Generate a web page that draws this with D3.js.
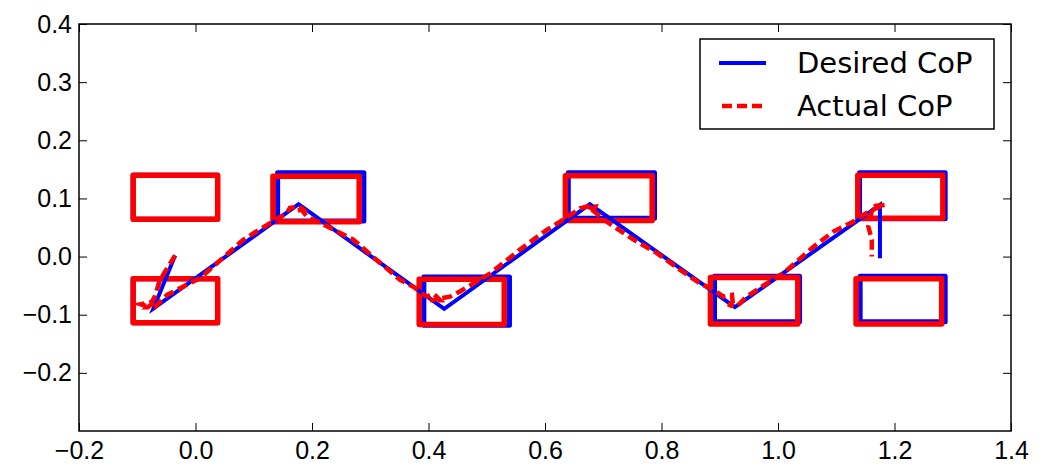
<!DOCTYPE html>
<html>
<head>
<meta charset="utf-8">
<script src="https://cdn.jsdelivr.net/npm/d3@7"></script>
<style>
  body { margin: 0; background: #fff; }
  svg { display: block; font-family: "DejaVu Sans", sans-serif; }
</style>
</head>
<body>
<svg id="chart" width="1042" height="474"></svg>
<script>
// tick values
const xTicks = [-0.2, 0.0, 0.2, 0.4, 0.6, 0.8, 1.0, 1.2, 1.4];
const yTicks = [-0.2, -0.1, 0.0, 0.1, 0.2, 0.3, 0.4];

// footsteps [x0, x1, y0, y1]
const desiredSteps = [
	[-0.107, 0.038, 0.064, 0.140],
	[-0.107, 0.038, -0.114, -0.038],
	[0.141, 0.289, 0.061, 0.144],
	[0.392, 0.539, -0.118, -0.035],
	[0.640, 0.788, 0.066, 0.144],
	[0.891, 1.037, -0.112, -0.034],
	[1.140, 1.287, 0.065, 0.144],
	[1.141, 1.287, -0.112, -0.034]
];
const actualSteps = [
	[-0.107, 0.038, 0.064, 0.140],
	[-0.107, 0.038, -0.114, -0.038],
	[0.133, 0.281, 0.060, 0.138],
	[0.384, 0.530, -0.117, -0.039],
	[0.635, 0.784, 0.062, 0.139],
	[0.884, 1.034, -0.116, -0.036],
	[1.137, 1.283, 0.066, 0.140],
	[1.134, 1.281, -0.116, -0.038]
];

// CoP trajectories [x, y]
const desiredCoP = [
	[-0.035, 0.002], [-0.072, -0.089], [0.177, 0.090], [0.427, -0.090],
	[0.677, 0.090], [0.926, -0.087], [1.175, 0.089], [1.175, -0.003]
];
const actualCoP = [
	[-0.035, 0.002], [-0.061, -0.040], [-0.070, -0.069], [-0.075, -0.078],
	[-0.094, -0.082], [-0.085, -0.085], [-0.073, -0.080], [-0.082, -0.087],
	[-0.070, -0.087], [-0.049, -0.066], [0.008, -0.037], [0.082, 0.029],
	[0.114, 0.049], [0.157, 0.075], [0.162, 0.084], [0.179, 0.086],
	[0.185, 0.081], [0.173, 0.079], [0.181, 0.082], [0.191, 0.069],
	[0.214, 0.058], [0.271, 0.029], [0.317, -0.011], [0.351, -0.040],
	[0.374, -0.052], [0.397, -0.069], [0.408, -0.064], [0.414, -0.069],
	[0.420, -0.075], [0.403, -0.075], [0.437, -0.069], [0.454, -0.060],
	[0.506, -0.029], [0.557, 0.012], [0.603, 0.046], [0.626, 0.060],
	[0.649, 0.075], [0.660, 0.083], [0.672, 0.086], [0.686, 0.086],
	[0.683, 0.081], [0.674, 0.086], [0.706, 0.060], [0.752, 0.029],
	[0.792, 0.006], [0.832, -0.023], [0.866, -0.046], [0.889, -0.057],
	[0.906, -0.069], [0.921, -0.066], [0.923, -0.086], [0.914, -0.082],
	[0.929, -0.086], [0.946, -0.069], [0.981, -0.046], [1.009, -0.029],
	[1.061, 0.017], [1.095, 0.043], [1.129, 0.060], [1.152, 0.075],
	[1.175, 0.086], [1.184, 0.089], [1.167, 0.087], [1.161, 0.078],
	[1.155, 0.052], [1.161, 0.029], [1.161, 0.000]
];

const seriesNames = ["Desired CoP", "Actual CoP"];

const svg = d3.select("#chart");
const plotLeft = 79, plotRight = 1011, plotTop = 24, plotBottom = 431;

const x = d3.scaleLinear().domain([-0.2, 1.4]).range([plotLeft, plotRight]);
const y = d3.scaleLinear().domain([-0.3, 0.4]).range([plotBottom, plotTop]);

const fmt = d => d3.format(".1f")(d).replace("-", "\u2212");

// footstep rectangles
function drawSteps(steps, color, w) {
	svg.append("g").selectAll("rect")
		.data(steps)
		.enter()
		.append("rect")
		.attr("x", d => x(d[0]))
		.attr("y", d => y(d[3]))
		.attr("width", d => x(d[1]) - x(d[0]))
		.attr("height", d => y(d[2]) - y(d[3]))
		.attr("fill", "none")
		.attr("stroke", color)
		.attr("stroke-width", w)
		.attr("stroke-linejoin", "round");
}
drawSteps(desiredSteps, "#0000ff", 5);
drawSteps(actualSteps, "#ff0000", 5.5);

const line = d3.line().x(d => x(d[0])).y(d => y(d[1]));

svg.append("path")
	.datum(desiredCoP)
	.attr("d", line)
	.attr("fill", "none")
	.attr("stroke", "#0000ff")
	.attr("stroke-width", 4);

svg.append("path")
	.datum(actualCoP)
	.attr("d", line)
	.attr("fill", "none")
	.attr("stroke", "#ff0000")
	.attr("stroke-width", 4.5)
	.attr("stroke-dasharray", "10,5");

// axes, ticks pointing inward
svg.append("g")
	.attr("transform", `translate(0,${plotBottom})`)
	.call(d3.axisBottom(x).tickValues(xTicks).tickSize(-8).tickPadding(10).tickFormat(fmt));
svg.append("g")
	.attr("transform", `translate(${plotLeft},0)`)
	.call(d3.axisLeft(y).tickValues(yTicks).tickSize(-8).tickPadding(7).tickFormat(fmt));
svg.append("g")
	.attr("transform", `translate(0,${plotTop})`)
	.call(d3.axisTop(x).tickValues(xTicks).tickSize(-8).tickFormat(""));
svg.append("g")
	.attr("transform", `translate(${plotRight},0)`)
	.call(d3.axisRight(y).tickValues(yTicks).tickSize(-8).tickFormat(""));

svg.selectAll(".domain").remove();
svg.selectAll(".tick line").attr("stroke", "#000").attr("stroke-width", 1);
svg.selectAll(".tick text").attr("fill", "#000").style("font-size", "25px");

svg.append("rect")
	.attr("x", plotLeft).attr("y", plotTop)
	.attr("width", plotRight - plotLeft).attr("height", plotBottom - plotTop)
	.attr("fill", "none").attr("stroke", "#000").attr("stroke-width", 1.5);

// legend
const legend = svg.append("g");
legend.append("rect")
	.attr("x", 700).attr("y", 39).attr("width", 294).attr("height", 90)
	.attr("fill", "#fff").attr("stroke", "#000").attr("stroke-width", 1.5);

const legendStyle = [
	{ color: "#0000ff", dash: null, w: 4, x1: 719, x2: 766 },
	{ color: "#ff0000", dash: "10,5", w: 4.5, x1: 722, x2: 762 }
];
seriesNames.forEach((name, i) => {
	const ly = 63 + i * 43;
	legend.append("line")
		.attr("x1", legendStyle[i].x1).attr("x2", legendStyle[i].x2)
		.attr("y1", ly).attr("y2", ly)
		.attr("stroke", legendStyle[i].color)
		.attr("stroke-width", legendStyle[i].w)
		.attr("stroke-dasharray", legendStyle[i].dash);
	legend.append("text")
		.attr("x", 797).attr("y", ly + 10)
		.style("font-size", "29px")
		.text(name);
});
</script>
</body>
</html>
